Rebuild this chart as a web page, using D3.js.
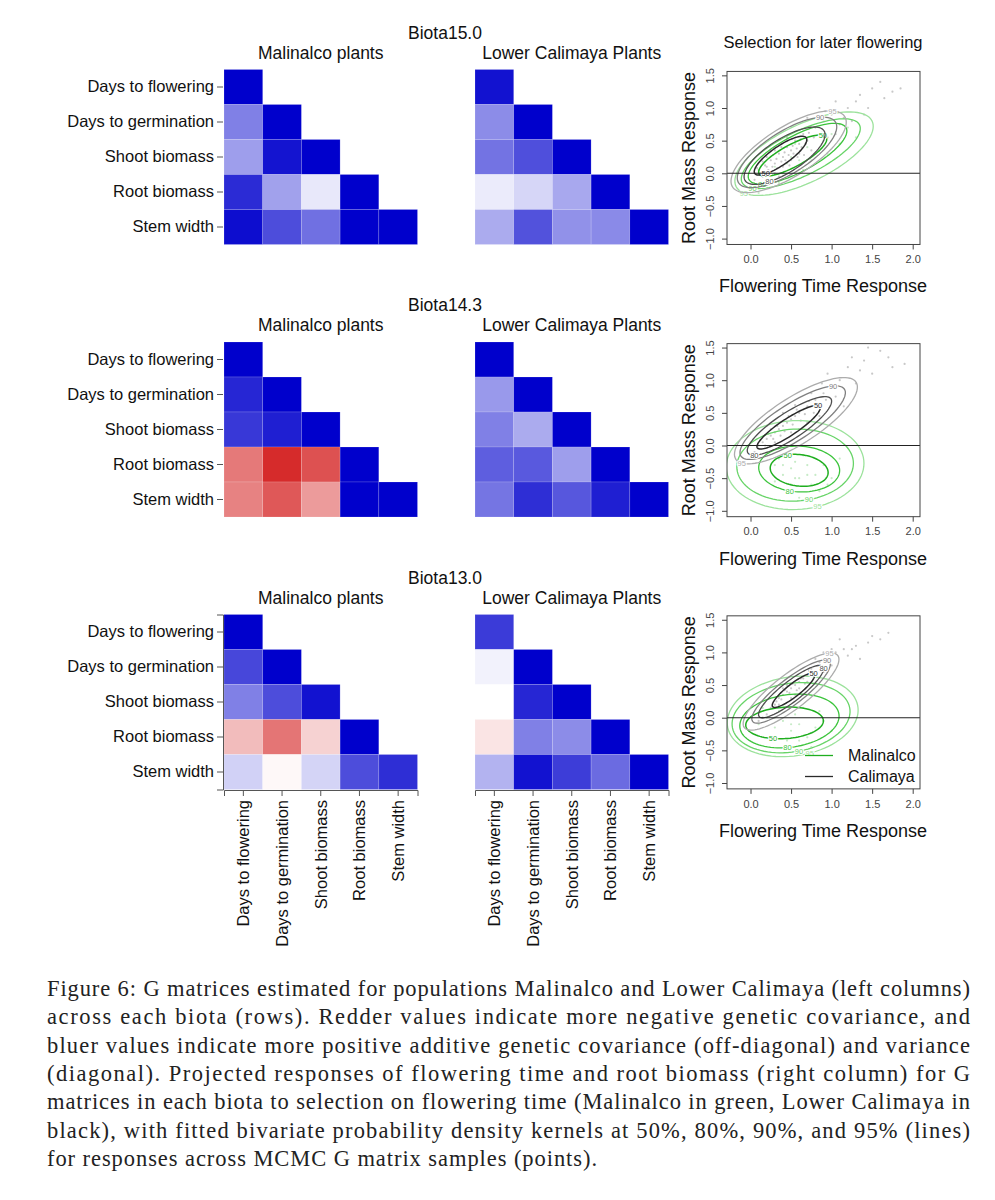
<!DOCTYPE html>
<html>
<head>
<meta charset="utf-8">
<script src="https://cdn.jsdelivr.net/npm/d3@7"></script>
<style>
  body { margin: 0; background: #fff; }
  text { font-family: "Liberation Sans", Arial, Helvetica, sans-serif; }
  .cap { font-family: "Liberation Serif", "Times New Roman", serif; }
</style>
</head>
<body>
<div id="fig"></div>
<script>
// ---- data ----
const traits = ["Days to flowering", "Days to germination", "Shoot biomass", "Root biomass", "Stem width"];
const biotas = ["Biota15.0", "Biota14.3", "Biota13.0"];
const popTitles = ["Malinalco plants", "Lower Calimaya Plants"];

// lower triangle of G (scaled -1..1), row by row
const malinalco15 = [[1], [0.5, 1], [0.38, 0.92, 1], [0.83, 0.37, 0.09, 1], [0.95, 0.7, 0.56, 1, 1]];
const calimaya15 = [[0.93], [0.45, 1], [0.55, 0.69, 1], [0.08, 0.16, 0.34, 1], [0.33, 0.68, 0.43, 0.46, 1]];
const malinalco14 = [[1], [0.85, 1], [0.78, 0.88, 1], [-0.6, -0.95, -0.78, 1], [-0.56, -0.75, -0.45, 1, 1]];
const calimaya14 = [[1], [0.4, 1], [0.5, 0.33, 1], [0.63, 0.65, 0.38, 1], [0.54, 0.82, 0.66, 0.88, 1]];
const malinalco13 = [[1], [0.72, 1], [0.5, 0.7, 0.93], [-0.3, -0.62, -0.2, 1], [0.18, -0.03, 0.17, 0.7, 0.82]];
const calimaya13 = [[0.77], [0.05, 1], [0.0, 0.85, 1], [-0.12, 0.5, 0.45, 1], [0.3, 0.93, 0.76, 0.58, 1]];

// density kernels: [level, cx, cy, a, b, angleDeg, labelT]
const calContours15 = [[50, 0.37, 0.27, 0.42, 0.13, 42, -140], [80, 0.42, 0.27, 0.62, 0.24, 40, -130], [90, 0.45, 0.32, 0.76, 0.30, 40, 30], [95, 0.47, 0.33, 0.88, 0.35, 40, 22]];
const malContours15 = [[50, 0.52, 0.27, 0.50, 0.16, 35, 15], [80, 0.58, 0.30, 0.72, 0.26, 35, -150], [90, 0.62, 0.30, 0.85, 0.32, 33, -158], [95, 0.66, 0.30, 0.98, 0.42, 33, -166]];
const calContours14 = [[50, 0.47, 0.28, 0.50, 0.12, 40, 10], [80, 0.48, 0.30, 0.66, 0.19, 40, -160], [90, 0.52, 0.35, 0.82, 0.26, 40, 25], [95, 0.56, 0.38, 0.95, 0.33, 40, -168]];
const malContours14 = [[50, 0.60, -0.38, 0.36, 0.24, -10, 120], [80, 0.60, -0.36, 0.50, 0.35, -5, -100], [90, 0.55, -0.30, 0.72, 0.55, 5, -80], [95, 0.55, -0.30, 0.85, 0.68, 5, -75]];
const calContours13 = [[50, 0.53, 0.42, 0.36, 0.09, 45, 5], [80, 0.50, 0.40, 0.55, 0.14, 45, -14], [90, 0.50, 0.40, 0.66, 0.18, 45, 8], [95, 0.50, 0.40, 0.80, 0.24, 45, 20]];
const malContours13 = [[50, 0.42, -0.08, 0.48, 0.24, 5, -110], [80, 0.48, -0.05, 0.62, 0.40, 12, -100], [90, 0.50, 0.00, 0.74, 0.52, 15, -93], [95, 0.52, 0.02, 0.82, 0.60, 15, -86]];

// MCMC sample responses [flowering, root mass]
const calPts15 = [[0.1,0.05],[0.2,0.1],[0.25,0.2],[0.3,0.15],[0.35,0.3],[0.4,0.25],[0.45,0.4],[0.5,0.35],[0.55,0.5],[0.6,0.45],[0.3,0.0],[0.15,-0.05],[0.5,0.2],[0.65,0.6],[0.7,0.5],[0.8,0.7],[0.9,0.8],[1.0,0.9],[1.1,0.75],[1.2,1.0],[1.3,1.1],[1.5,1.3],[1.75,1.25],[1.4,0.9],[0.95,0.55],[0.2,0.25],[0.05,-0.1],[0.4,0.1],[0.6,0.3],[0.75,0.35],[1.05,0.6],[0.85,1.0],[1.6,1.4],[0.45,0.55],[0.35,-0.05],
  [0.12,0.0],[0.18,0.12],[0.22,0.05],[0.27,0.1],[0.28,0.28],[0.32,0.22],[0.33,0.08],[0.38,0.18],[0.42,0.32],[0.43,0.2],[0.47,0.28],[0.52,0.42],[0.53,0.3],[0.57,0.38],[0.62,0.52],[0.63,0.4],[0.68,0.45],[0.72,0.62],[0.25,0.35],[0.15,0.18],[0.08,0.08],[0.48,0.12],[0.58,0.25],[0.38,0.4],[0.3,0.35],[0.66,0.28],[0.78,0.55],[0.88,0.62],[0.92,0.95],[1.15,0.85],[1.25,0.8],[1.35,1.2],[1.45,1.0],[1.65,1.15],[1.85,1.3],[1.05,1.1],[0.7,0.85]];
const malPts15 = [[0.3,0.1],[0.5,0.25],[0.7,0.4],[0.9,0.5],[0.6,0.2],[0.4,0.0],[1.0,0.6],[1.2,0.7],[0.8,0.3],[0.2,-0.1],[0.1,-0.3],[0.55,0.45],[1.1,0.45],[0.65,0.05],[0.45,0.15],[0.75,0.2],[0.85,0.6],[1.3,0.55],[0.35,-0.15],[0.95,0.3]];
const calPts14 = [[0.1,0.0],[0.15,0.05],[0.2,0.1],[0.25,0.15],[0.3,0.2],[0.35,0.25],[0.4,0.3],[0.45,0.35],[0.5,0.4],[0.55,0.45],[0.6,0.5],[0.65,0.55],[0.7,0.6],[0.3,0.05],[0.5,0.2],[0.7,0.35],[0.8,0.7],[0.9,0.8],[1.0,0.9],[1.1,1.0],[1.2,1.2],[1.4,1.3],[1.6,1.45],[1.3,0.95],[0.85,0.45],[0.2,0.3],[0.95,1.1],[1.5,1.1],[1.75,1.2],[0.4,0.5],[0.6,0.25],[1.15,0.6],[0.05,-0.1],[0.75,0.8],[1.25,1.35],
  [0.12,0.08],[0.18,0.0],[0.22,0.18],[0.28,0.1],[0.33,0.3],[0.37,0.15],[0.42,0.22],[0.47,0.45],[0.52,0.32],[0.57,0.55],[0.62,0.38],[0.67,0.48],[0.72,0.68],[0.78,0.5],[0.83,0.62],[0.88,0.95],[0.93,0.7],[1.05,0.75],[1.35,1.15],[1.45,1.5],[1.7,1.35],[1.9,1.25],[0.25,0.25],[0.55,0.62]];
const malPts14 = [[0.3,-0.3],[0.4,-0.45],[0.5,-0.35],[0.6,-0.5],[0.7,-0.3],[0.8,-0.45],[0.5,-0.6],[0.35,-0.2],[0.65,-0.15],[0.9,-0.3],[0.45,-0.7],[0.75,-0.6],[1.0,-0.5],[0.2,-0.1],[0.55,-0.25],[0.85,-0.7],[1.1,-0.2],[0.6,-0.8],[0.4,-0.3],[0.7,-0.45],[0.55,-0.5],[0.3,-0.55],[0.95,-0.6]];
const calPts13 = [[0.3,0.2],[0.35,0.3],[0.4,0.35],[0.45,0.4],[0.5,0.45],[0.55,0.5],[0.6,0.55],[0.65,0.6],[0.7,0.65],[0.35,0.2],[0.5,0.3],[0.6,0.45],[0.45,0.5],[0.75,0.75],[0.85,0.85],[0.95,0.9],[1.05,1.0],[1.15,1.05],[1.3,1.1],[1.45,1.15],[1.7,1.3],[1.5,1.25],[1.2,0.95],[0.9,0.7],[1.0,0.8],[0.2,0.05],[0.1,-0.05],[0.8,0.9],[1.35,0.9],[0.65,0.35],
  [0.32,0.25],[0.38,0.28],[0.42,0.42],[0.48,0.38],[0.52,0.52],[0.57,0.42],[0.62,0.6],[0.67,0.52],[0.72,0.72],[0.4,0.45],[0.55,0.35],[0.7,0.55],[0.8,0.65],[0.9,1.0],[1.1,1.2],[1.25,1.05],[1.6,1.2],[1.0,1.05],[0.25,0.15],[0.15,0.0]];
const malPts13 = [[0.1,-0.1],[0.2,0.0],[0.3,-0.15],[0.4,-0.05],[0.5,-0.2],[0.6,-0.1],[0.7,-0.3],[0.8,-0.15],[0.35,0.1],[0.15,0.15],[0.55,0.05],[0.9,-0.05],[0.45,-0.35],[0.25,-0.3],[0.65,0.15],[1.0,-0.2],[0.75,-0.45],[0.3,0.0],[0.5,-0.1],[0.6,-0.35],[0.85,0.1]];

const xTicks = [0, 0.5, 1, 1.5, 2];
const yTicks = [-1, -0.5, 0, 0.5, 1, 1.5];
const legendNames = ["Malinalco", "Calimaya"];

const captionLines = [
  "Figure 6: G matrices estimated for populations Malinalco and Lower Calimaya (left columns)",
  "across each biota (rows).  Redder values indicate more negative genetic covariance, and",
  "bluer values indicate more positive additive genetic covariance (off-diagonal) and variance",
  "(diagonal).  Projected responses of flowering time and root biomass (right column) for G",
  "matrices in each biota to selection on flowering time (Malinalco in green, Lower Calimaya in",
  "black), with fitted bivariate probability density kernels at 50%, 80%, 90%, and 95% (lines)",
  "for responses across MCMC G matrix samples (points)."
];

// ---- layout ----
const W = 995, H = 1200;
const svg = d3.select("#fig").append("svg").attr("width", W).attr("height", H);
svg.append("rect").attr("width", W).attr("height", H).attr("fill", "#fff");

const rows = [
  { title: biotas[0], mats: [malinalco15, calimaya15], cal: calContours15, mal: malContours15, cp: calPts15, mp: malPts15 },
  { title: biotas[1], mats: [malinalco14, calimaya14], cal: calContours14, mal: malContours14, cp: calPts14, mp: malPts14 },
  { title: biotas[2], mats: [malinalco13, calimaya13], cal: calContours13, mal: malContours13, cp: calPts13, mp: malPts13 }
];
const rowTop = [69.5, 342, 614.5];
const cellH = 35, cellW = 38.7;
const panelX = [224, 475];

const color = d3.scaleLinear().domain([-1, 0, 1]).range(["#d42020", "#ffffff", "#0000cc"]);

const grayCol = { 50: "#2a2a2a", 80: "#4f4f4f", 90: "#808080", 95: "#acacac" };
const greenCol = { 50: "#1fae1f", 80: "#3cc43c", 90: "#68d468", 95: "#9ce29c" };

const sx = d3.scaleLinear().domain([-0.29, 2.09]).range([727, 920]);
const yZero = [173.3, 445.5, 717.7];
const yUnit = 65.3;

function ellipseAt(e, t, xs, ys) {
  const [, cx, cy, a, b, th] = e;
  const r = th * Math.PI / 180, tt = t * Math.PI / 180;
  const dx = a * Math.cos(tt), dy = b * Math.sin(tt);
  return [xs(cx + dx * Math.cos(r) - dy * Math.sin(r)), ys(cy + dx * Math.sin(r) + dy * Math.cos(r))];
}

rows.forEach((row, ri) => {
  const top = rowTop[ri];

  svg.append("text").attr("x", 445).attr("y", top - 31).attr("text-anchor", "middle")
    .attr("font-size", 17.5).attr("fill", "#111").text(row.title);

  row.mats.forEach((mat, pi) => {
    const x0 = panelX[pi];
    const xb = d3.scaleBand().domain(traits).range([x0, x0 + cellW * 5]);
    const yb = d3.scaleBand().domain(traits).range([top, top + cellH * 5]);

    svg.append("text").attr("x", x0 + cellW * 2.5).attr("y", top - 11)
      .attr("text-anchor", "middle").attr("font-size", 17.5).attr("fill", "#111").text(popTitles[pi]);

    const cells = [];
    mat.forEach((r, i) => r.forEach((v, j) => cells.push({ i, j, v })));
    svg.append("g").selectAll("rect").data(cells).join("rect")
      .attr("x", d => xb(traits[d.j])).attr("y", d => yb(traits[d.i]))
      .attr("width", xb.bandwidth()).attr("height", yb.bandwidth())
      .attr("fill", d => color(d.v))
      .attr("stroke", "rgba(255,255,255,0.22)").attr("stroke-width", 0.7);

    if (pi === 0) {
      const ya = svg.append("g").attr("transform", `translate(${x0 - 1},0)`)
        .call(d3.axisLeft(yb).tickSize(6).tickPadding(3));
      ya.select(".domain").attr("stroke", "#555");
      ya.selectAll(".tick line").attr("stroke", "#555");
      ya.selectAll("text").attr("font-size", 16.5).attr("fill", "#111")
        .attr("font-family", "'Liberation Sans', Arial, sans-serif");
      if (ri < 2) ya.select(".domain").remove();
    }
    if (ri === 2) {
      const xa = svg.append("g").attr("transform", `translate(0,${top + cellH * 5 + 0.5})`)
        .call(d3.axisBottom(xb).tickSize(6).tickPadding(3));
      xa.select(".domain").attr("stroke", "#555");
      xa.selectAll(".tick line").attr("stroke", "#555");
      xa.selectAll("text").attr("font-size", 16.5).attr("fill", "#111")
        .attr("font-family", "'Liberation Sans', Arial, sans-serif")
        .attr("transform", "rotate(-90)").attr("text-anchor", "end")
        .attr("x", -10).attr("y", 0).attr("dy", "0.35em");
    }
  });

  // scatter panel
  const sy = d3.scaleLinear().domain([-1.09, 1.56]).range([yZero[ri] + 1.09 * yUnit, yZero[ri] - 1.56 * yUnit]);
  const g = svg.append("g");
  const clipId = "clip" + ri;
  g.append("clipPath").attr("id", clipId).append("rect")
    .attr("x", sx.range()[0]).attr("y", sy.range()[1])
    .attr("width", sx.range()[1] - sx.range()[0]).attr("height", sy.range()[0] - sy.range()[1]);
  const inner = g.append("g").attr("clip-path", `url(#${clipId})`);

  inner.selectAll("circle.m").data(row.mp).join("circle").attr("class", "m")
    .attr("cx", d => sx(d[0])).attr("cy", d => sy(d[1])).attr("r", 1.1)
    .attr("fill", "#8fd88f").attr("opacity", 0.5);
  inner.selectAll("circle.c").data(row.cp).join("circle").attr("class", "c")
    .attr("cx", d => sx(d[0])).attr("cy", d => sy(d[1])).attr("r", 1.1)
    .attr("fill", "#9a9a9a").attr("opacity", 0.55);

  const line = d3.line().curve(d3.curveLinearClosed);
  const tSteps = d3.range(0, 360, 4);
  [[row.mal, greenCol], [row.cal, grayCol]].forEach(([cs, cols]) => {
    cs.slice().reverse().forEach(e => {
      inner.append("path").attr("d", line(tSteps.map(t => ellipseAt(e, t, sx, sy))))
        .attr("fill", "none").attr("stroke", cols[e[0]]).attr("stroke-width", e[0] === 50 ? 1.5 : 1.3);
    });
    cs.forEach(e => {
      const [px, py] = ellipseAt(e, e[6], sx, sy);
      inner.append("text").attr("x", px).attr("y", py).attr("dy", "0.35em")
        .attr("text-anchor", "middle").attr("font-size", 7.5)
        .attr("fill", cols[e[0]]).attr("stroke", "#fff").attr("stroke-width", 2.2)
        .attr("paint-order", "stroke").text(e[0]);
    });
  });

  inner.append("line").attr("x1", sx.range()[0]).attr("x2", sx.range()[1])
    .attr("y1", sy(0)).attr("y2", sy(0)).attr("stroke", "#222").attr("stroke-width", 1.1);

  g.append("rect").attr("x", sx.range()[0]).attr("y", sy.range()[1])
    .attr("width", sx.range()[1] - sx.range()[0]).attr("height", sy.range()[0] - sy.range()[1])
    .attr("fill", "none").attr("stroke", "#444").attr("stroke-width", 1);

  const xa = g.append("g").attr("transform", `translate(0,${sy.range()[0]})`)
    .call(d3.axisBottom(sx).tickValues(xTicks).tickFormat(d3.format(".1f")).tickSize(5).tickPadding(6));
  xa.select(".domain").remove();
  xa.selectAll(".tick line").attr("stroke", "#444");
  xa.selectAll("text").attr("font-size", 11).attr("fill", "#444")
    .attr("font-family", "'Liberation Sans', Arial, sans-serif");

  const ya = g.append("g").attr("transform", `translate(${sx.range()[0]},0)`)
    .call(d3.axisLeft(sy).tickValues(yTicks).tickFormat(d3.format(".1f")).tickSize(5).tickPadding(6));
  ya.select(".domain").remove();
  ya.selectAll(".tick line").attr("stroke", "#444");
  ya.selectAll("text").attr("font-size", 11).attr("fill", "#444")
    .attr("font-family", "'Liberation Sans', Arial, sans-serif")
    .attr("text-anchor", "middle").attr("transform", "rotate(-90)")
    .attr("x", 0).attr("y", -13).attr("dy", 0)
    .text(d => d3.format(".1f")(d).replace("-", "\u2212"));

  g.append("text").attr("transform", `translate(695,${(sy.range()[0] + sy.range()[1]) / 2}) rotate(-90)`)
    .attr("text-anchor", "middle").attr("font-size", 18).attr("fill", "#111").text("Root Mass Response");
  g.append("text").attr("x", 823).attr("y", sy.range()[0] + 48)
    .attr("text-anchor", "middle").attr("font-size", 18).attr("fill", "#111").text("Flowering Time Response");

  if (ri === 0) {
    g.append("text").attr("x", 823).attr("y", 48).attr("text-anchor", "middle")
      .attr("font-size", 16.5).attr("fill", "#111").text("Selection for later flowering");
  }
  if (ri === 2) {
    const legCols = [greenCol[50], grayCol[50]];
    legendNames.forEach((nm, k) => {
      const ly = 755.5 + k * 21;
      g.append("line").attr("x1", 805).attr("x2", 833).attr("y1", ly).attr("y2", ly)
        .attr("stroke", legCols[k]).attr("stroke-width", 1.3);
      g.append("text").attr("x", 848).attr("y", ly).attr("dy", "0.36em")
        .attr("font-size", 16).attr("fill", "#111").text(nm);
    });
  }
});

// caption
captionLines.forEach((ln, k) => {
  svg.append("text").attr("class", "cap").attr("x", 47).attr("y", 996 + k * 28.3)
    .attr("font-size", 22.5).attr("fill", "#222").text(ln)
    .attr("textLength", k < 6 ? 923 : 550).attr("lengthAdjust", "spacing");
});
</script>
</body>
</html>
